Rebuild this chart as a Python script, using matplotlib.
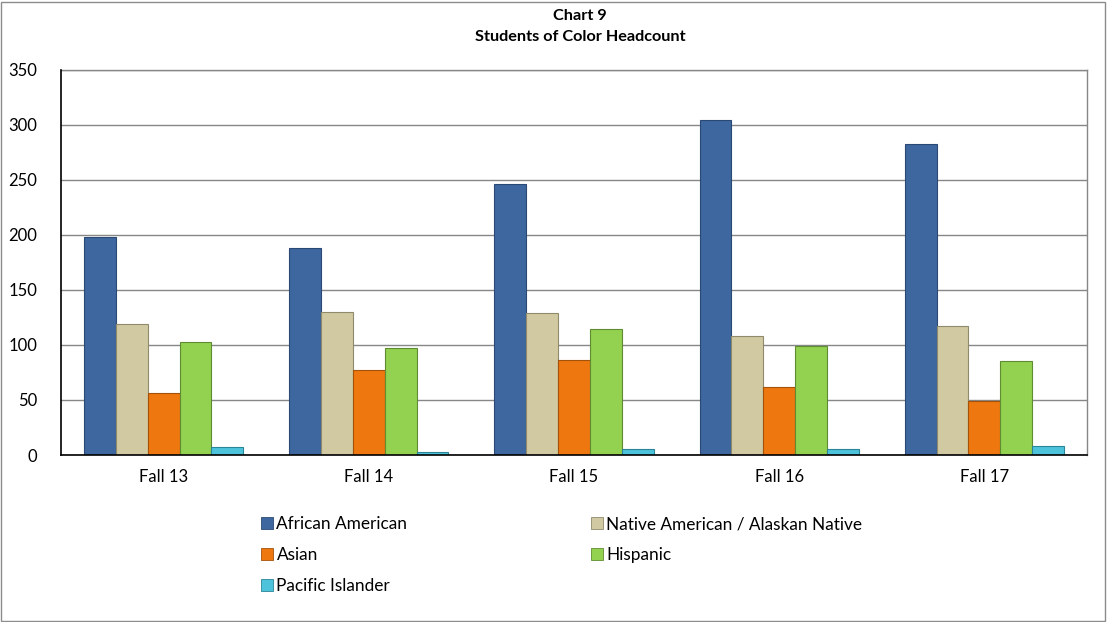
import matplotlib
matplotlib.use("Agg")
import matplotlib.pyplot as plt
from matplotlib.patches import Rectangle, Patch
import numpy as np

plt.rcParams['font.family'] = ['Lato', 'DejaVu Sans']

categories = ["Fall 13", "Fall 14", "Fall 15", "Fall 16", "Fall 17"]
series_names = ["African American", "Native American / Alaskan Native", "Asian",
                "Hispanic", "Pacific Islander"]
african_american = [198, 188, 246, 304, 282]
native_american = [119, 130, 129, 108, 117]
asian = [56, 77, 86, 62, 49]
hispanic = [103, 97, 114, 99, 85]
pacific_islander = [7, 3, 5, 5, 8]
series_values = [african_american, native_american, asian, hispanic, pacific_islander]
colors = ["#3D679E", "#D1C9A1", "#EE780F", "#93D150", "#4CC3DB"]
edges = ["#2A4A75", "#8F8A6C", "#A4520A", "#5F8C30", "#2A8597"]
yticks = [0, 50, 100, 150, 200, 250, 300, 350]

fig = plt.figure(figsize=(11.07, 6.22), dpi=100)
W, H = 1107, 622
ax = fig.add_axes([61 / W, 1 - 455 / H, (1087 - 61) / W, (455 - 69.5) / H])

x = np.arange(len(categories))
bw = 0.155
n = len(series_values)
for i, (vals, c, e) in enumerate(zip(series_values, colors, edges)):
    off = (i - (n - 1) / 2) * bw
    ax.bar(x + off, vals, width=bw, color=c, edgecolor=e, linewidth=0.8, zorder=3)

ax.set_xlim(-0.5, len(categories) - 0.5)
ax.set_ylim(0, 350)
ax.set_yticks(yticks)
ax.set_xticks(x)
ax.set_xticklabels(categories)
ax.tick_params(axis='both', length=0, labelsize=12, colors='black')
ax.tick_params(axis='x', pad=10)
ax.tick_params(axis='y', pad=17)
ax.grid(axis='y', color='#878787', linewidth=1.0, zorder=0)
ax.set_axisbelow(True)
for s in ['left', 'bottom']:
    ax.spines[s].set_color('black')
    ax.spines[s].set_linewidth(1.2)
for s in ['top', 'right']:
    ax.spines[s].set_color('#878787')
    ax.spines[s].set_linewidth(1.0)
ax.spines['left'].set_zorder(5)
ax.spines['bottom'].set_zorder(5)

fig.text(0.524, 1 - 16 / H, "Chart 9", ha='center', va='center', fontsize=11.7, fontweight='bold')
fig.text(0.524, 1 - 37 / H, "Students of Color Headcount", ha='center', va='center',
         fontsize=11.7, fontweight='bold')

# outer border
fig.add_artist(Rectangle((1 / W, 1 / H), (W - 3) / W, (H - 3) / H, transform=fig.transFigure,
                         fill=False, edgecolor='#8C8C8C', linewidth=1.0))

handles = [Patch(facecolor=c, edgecolor=e, linewidth=0.6) for c, e in zip(colors, edges)]
col1 = [0, 2, 4]
col2 = [1, 3]
legkw = dict(frameon=False, fontsize=12.4, handlelength=0.7, handleheight=0.7,
             handletextpad=0.2, labelspacing=0.86, borderpad=0, borderaxespad=0,
             loc='upper left')
fig.legend([handles[i] for i in col1], [series_names[i] for i in col1],
           bbox_to_anchor=(261 / W, 1 - 516 / H), **legkw)
fig.legend([handles[i] for i in col2], [series_names[i] for i in col2],
           bbox_to_anchor=(591 / W, 1 - 516 / H), **legkw)

fig.savefig("out.png", dpi=100)
